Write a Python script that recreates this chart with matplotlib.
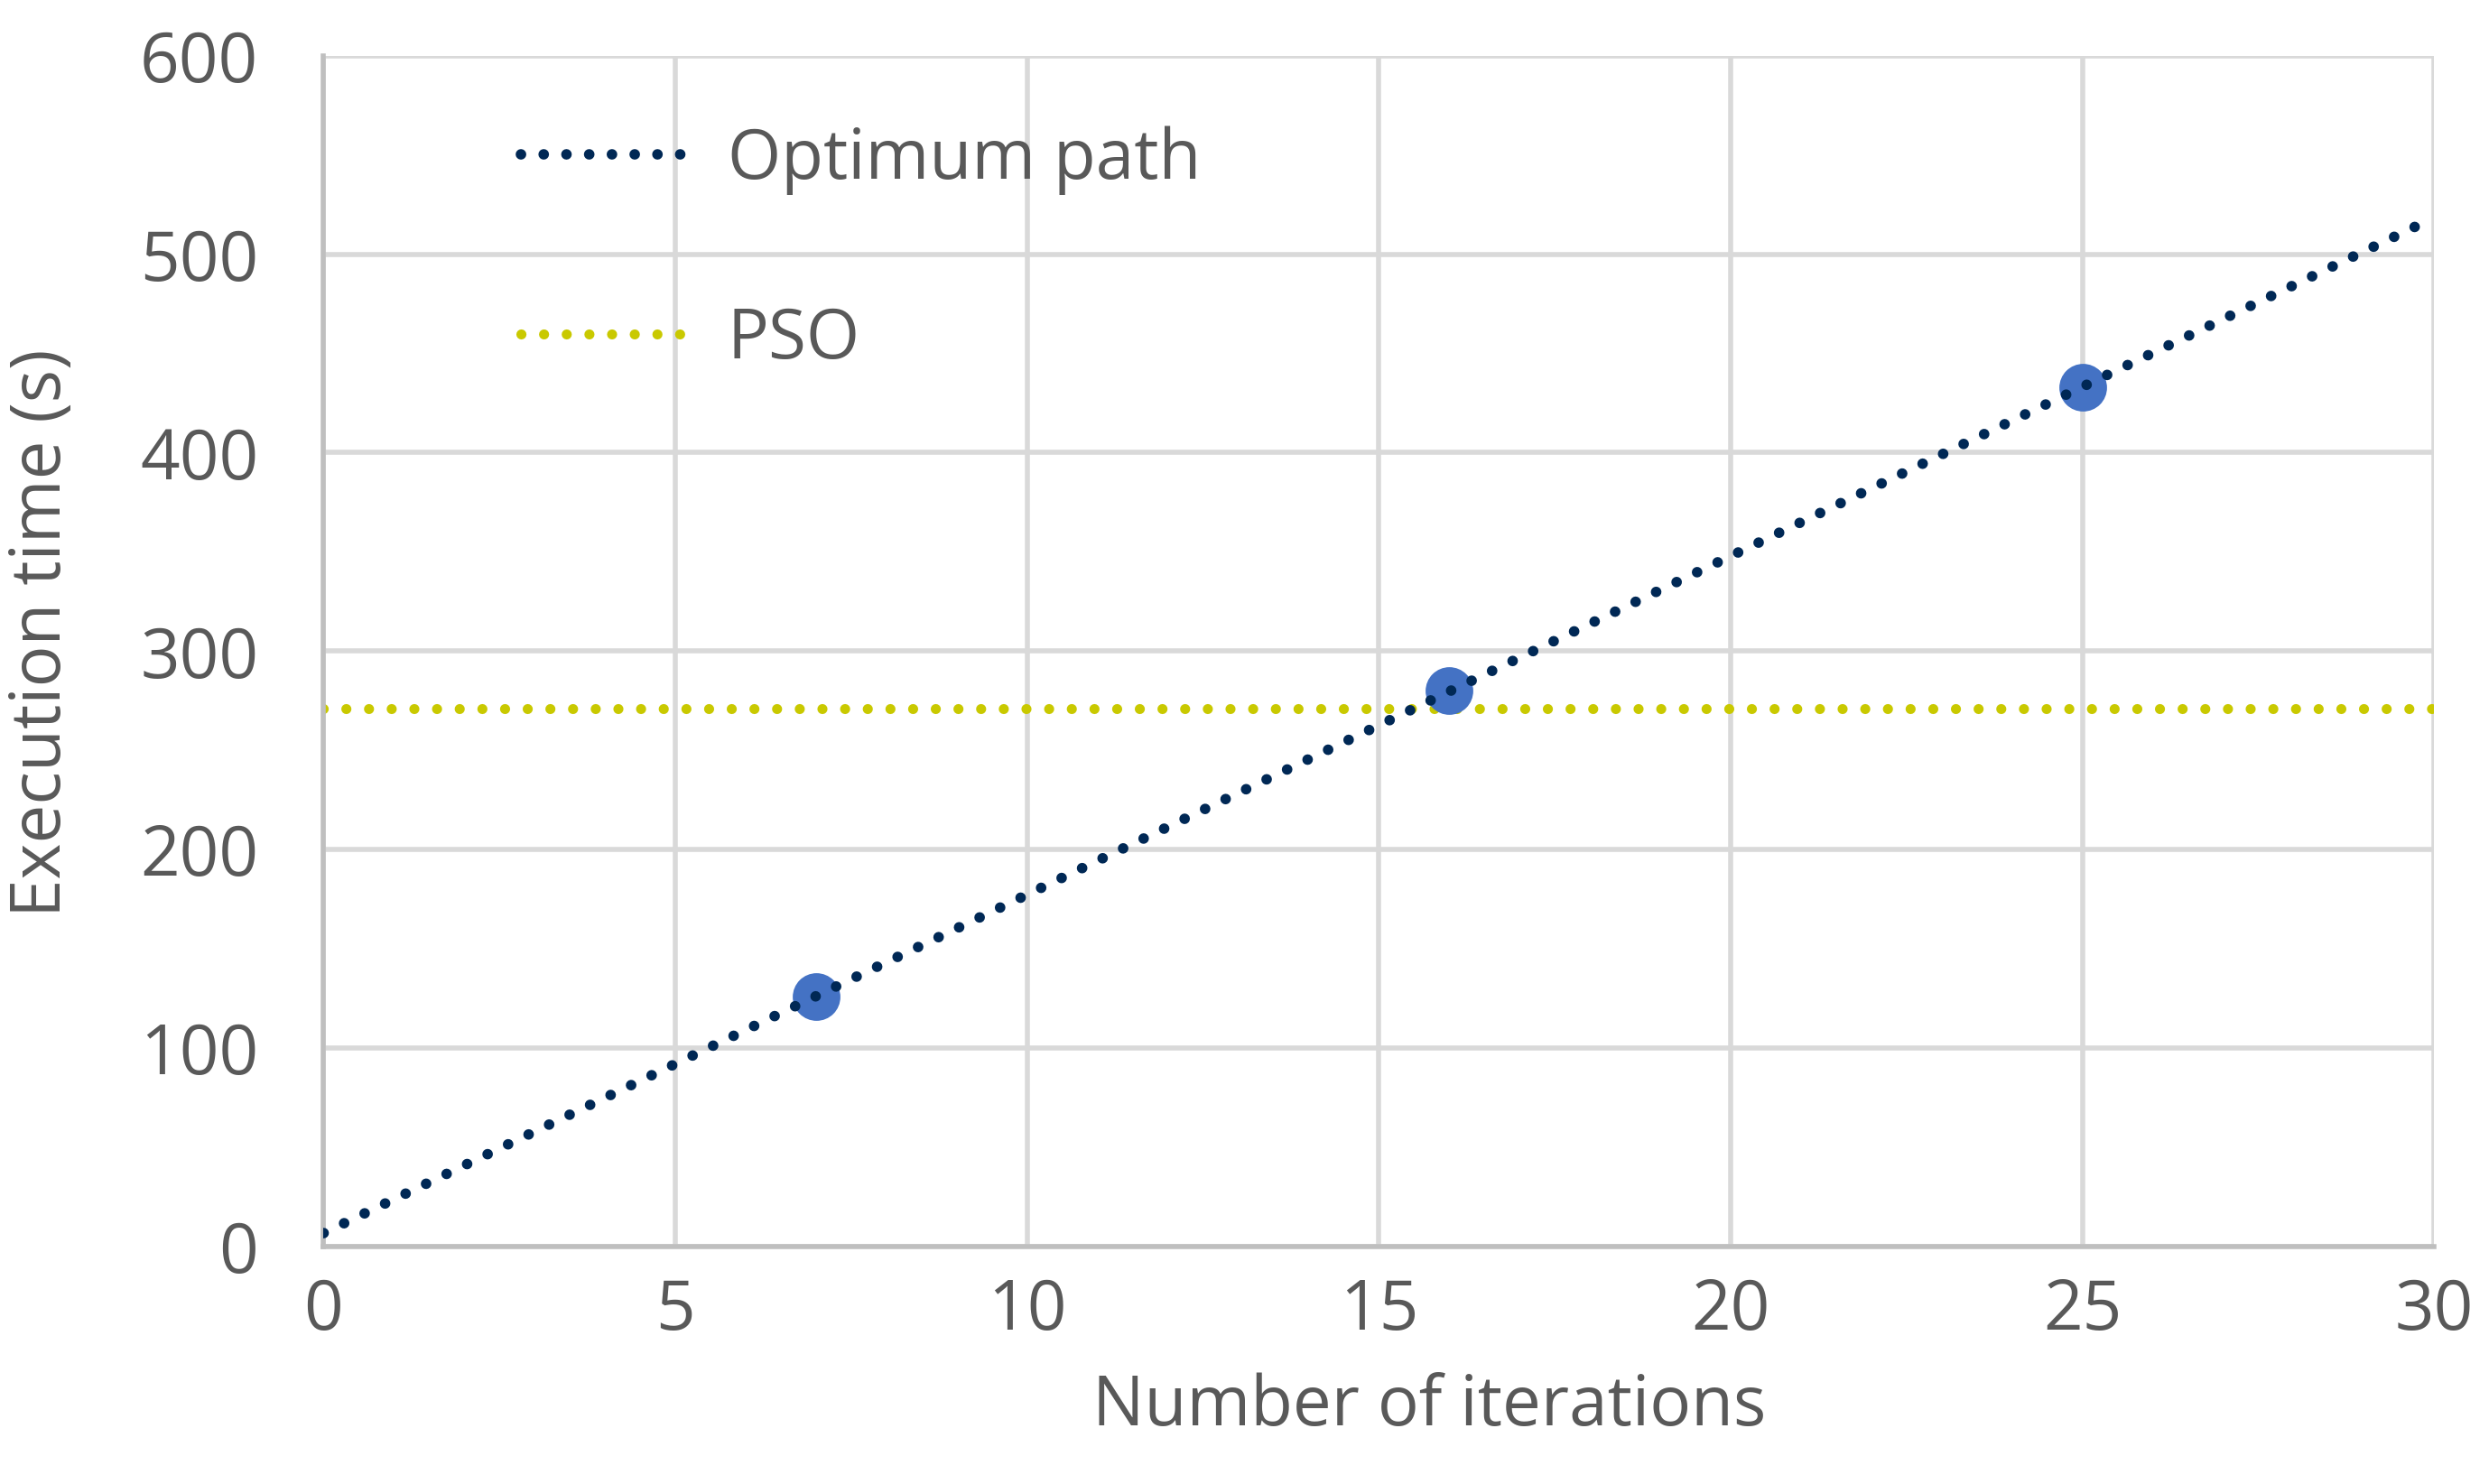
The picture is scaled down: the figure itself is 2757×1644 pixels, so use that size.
import numpy as np
import matplotlib.pyplot as plt

plt.rcParams['font.family'] = ['Open Sans', 'DejaVu Sans']

# measured points (iterations, execution time)
iterations = [7, 16, 25]
exec_time = [126, 280, 433]
pso_time = 271

x_range = [0, 30]

TEXT = "#595959"
GRID = "#D9D9D9"
SPINE = "#BFBFBF"
FS = 27.5

# linear trend through the measured points
slope, intercept = np.polyfit(iterations, exec_time, 1)
trend_x = np.array(x_range)
trend_y = slope * trend_x + intercept

fig = plt.figure(figsize=(13.785, 8.22), dpi=200)
ax = fig.add_axes([0.130, 0.160, 0.848, 0.8025])

ax.scatter(iterations, exec_time, s=19**2, color="#4472C4", zorder=3, linewidths=0)
ax.plot(trend_x, trend_y, color="#002855", lw=4.2, linestyle=(0, (0.01, 2.15)),
        dash_capstyle="round", label="Optimum path", zorder=4)
ax.plot(x_range, [pso_time, pso_time], color="#C9C900", lw=4.0,
        linestyle=(0, (0.01, 2.25)), dash_capstyle="round", label="PSO", zorder=2)

ax.set_xlim(0, 30)
ax.set_ylim(0, 600)
ax.set_xticks(range(0, 31, 5))
ax.set_yticks(range(0, 601, 100))
ax.grid(True, color=GRID, lw=2.0)
ax.set_axisbelow(True)
ax.tick_params(length=0, labelsize=FS, labelcolor=TEXT)
ax.tick_params(axis="y", pad=26)
ax.tick_params(axis="x", pad=12)
for s in ["top", "right"]:
    ax.spines[s].set_visible(False)
for s in ["left", "bottom"]:
    ax.spines[s].set_color(SPINE)
    ax.spines[s].set_linewidth(2.0)

ax.set_xlabel("Number of iterations", fontsize=FS, color=TEXT)
ax.set_ylabel("Execution time (s)", fontsize=FS, color=TEXT)
ax.xaxis.set_label_coords(0.524, -0.106)
ax.yaxis.set_label_coords(-0.117, 0.515)

leg = ax.legend(loc="upper left", bbox_to_anchor=(0.064, 0.993), frameon=False,
                fontsize=FS, handlelength=2.5, handletextpad=0.5, labelspacing=1.6,
                labelcolor=TEXT)

fig.savefig("out.png", dpi=200)
